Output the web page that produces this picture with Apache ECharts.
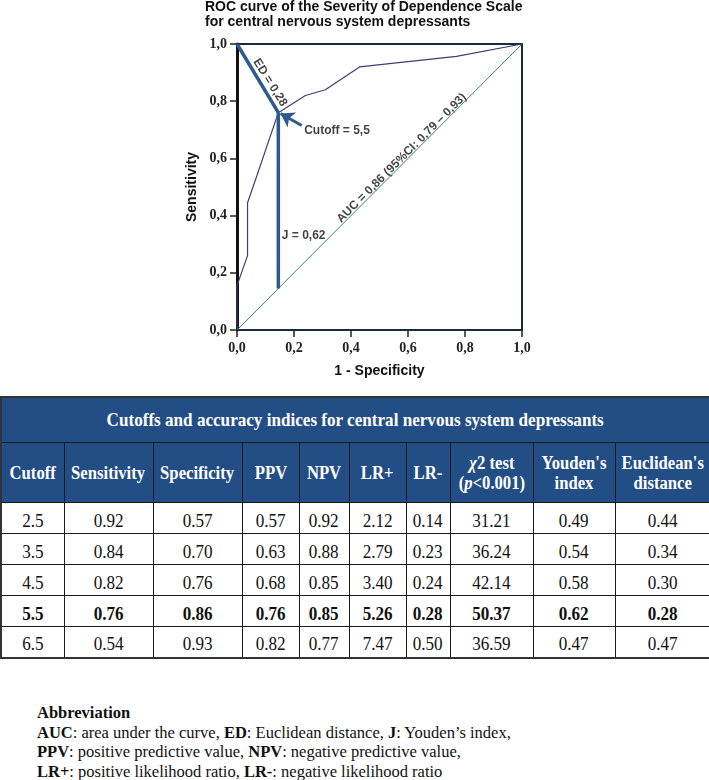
<!DOCTYPE html>
<html>
<head>
<meta charset="utf-8">
<script src="https://cdn.jsdelivr.net/npm/echarts@6/dist/echarts.min.js"></script>
<style>
  body { margin: 0; background: #fff; }
  #page { position: relative; width: 709px; height: 780px; overflow: hidden; }
  #roc { position: absolute; left: 0; top: 0; width: 709px; height: 390px; }
  #tbl {
    position: absolute; left: 0; top: 396px; width: 709px;
    border-collapse: collapse; table-layout: fixed;
    font-family: "Liberation Serif", "Times New Roman", serif; color: #111;
    border: 2px solid #333;
  }
  #tbl th, #tbl td { border: 1.5px solid #1a1a1a; padding: 0; text-align: center; }
  #tbl th { background: #234e85; color: #fff; font-weight: bold; }
  #tbl tr.ttl th { height: 44px; font-size: 19px; }
  #tbl tr.hdr th { height: 59px; font-size: 18.5px; line-height: 20px; }
  #tbl td { height: 31px; font-size: 19px; padding-top: 5px; box-sizing: border-box; }
  #tbl tr.best td { font-weight: bold; }
  .sx { display: inline-block; transform: scaleX(0.9); white-space: nowrap; }
  #abbr {
    position: absolute; left: 37px; top: 703px;
    font-family: "Liberation Serif", "Times New Roman", serif;
    font-size: 16.5px; line-height: 19.5px; color: #111;
  }
</style>
</head>
<body>
<div id="page">
  <div id="roc"></div>
  <table id="tbl"></table>
  <div id="abbr">
    <b>Abbreviation</b><br>
    <b>AUC</b>: area under the curve, <b>ED</b>: Euclidean distance, <b>J</b>: Youden’s index,<br>
    <b>PPV</b>: positive predictive value, <b>NPV</b>: negative predictive value,<br>
    <b>LR+</b>: positive likelihood ratio, <b>LR-</b>: negative likelihood ratio
  </div>
</div>
<script>
// ROC curve
const rocFpr = [0, 0, 0.037, 0.037, 0.07, 0.145, 0.24, 0.31, 0.43, 0.77, 1];
const rocTpr = [0, 0.155, 0.26, 0.445, 0.54, 0.76, 0.82, 0.84, 0.92, 0.957, 1];

// chosen cutoff point on the curve
const cutoffPoint = [0.145, 0.76];
const auc = 0.86;
const aucCi = [0.79, 0.93];

// table values
const columns = ['Cutoff', 'Sensitivity', 'Specificity', 'PPV', 'NPV', 'LR+', 'LR-',
  '<i>χ</i>2 test<br>(<i>p</i>&lt;0.001)', 'Youden\'s<br>index', 'Euclidean\'s<br>distance'];
const colWidths = [63, 89, 89, 57, 50, 57, 44, 83, 82, 95];
const cutoffs = [2.5, 3.5, 4.5, 5.5, 6.5];
const sensitivity = [0.92, 0.84, 0.82, 0.76, 0.54];
const specificity = [0.57, 0.70, 0.76, 0.86, 0.93];
const ppv = [0.57, 0.63, 0.68, 0.76, 0.82];
const npv = [0.92, 0.88, 0.85, 0.85, 0.77];
const lrPos = [2.12, 2.79, 3.40, 5.26, 7.47];
const lrNeg = [0.14, 0.23, 0.24, 0.28, 0.50];
const chi2 = [31.21, 36.24, 42.14, 50.37, 36.59];
const youden = [0.49, 0.54, 0.58, 0.62, 0.47];
const euclid = [0.44, 0.34, 0.30, 0.28, 0.47];
const bestRow = 3;

const comma = (v, d) => v.toFixed(d).replace('.', ',');

// build the table
const tbl = document.getElementById('tbl');
let html = '<colgroup>' + colWidths.map(w => `<col style="width:${w}px">`).join('') + '</colgroup>';
html += `<tr class="ttl"><th colspan="${columns.length}"><span class="sx">Cutoffs and accuracy indices for central nervous system depressants</span></th></tr>`;
html += '<tr class="hdr">' + columns.map(c => `<th><span class="sx">${c}</span></th>`).join('') + '</tr>';
cutoffs.forEach((c, i) => {
  const cells = [c.toFixed(1), sensitivity[i].toFixed(2), specificity[i].toFixed(2), ppv[i].toFixed(2),
    npv[i].toFixed(2), lrPos[i].toFixed(2), lrNeg[i].toFixed(2), chi2[i].toFixed(2),
    youden[i].toFixed(2), euclid[i].toFixed(2)];
  html += `<tr class="${i === bestRow ? 'best' : ''}">` + cells.map(v => `<td><span class="sx">${v}</span></td>`).join('') + '</tr>';
});
tbl.innerHTML = html;

// chart
const chart = echarts.init(document.getElementById('roc'));

const sans = 'Liberation Sans';
const blue = '#2e5a8e';
const labelStyle = { fontFamily: sans, fontWeight: 'bold', fontSize: 12, color: '#111' };

const cx = cutoffPoint[0];
const cy = cutoffPoint[1];

const option = {
  animation: false,
  title: {
    text: 'ROC curve of the Severity of Dependence Scale\nfor central nervous system depressants',
    left: 205,
    top: 0,
    padding: 0,
    textStyle: { fontFamily: sans, fontWeight: 'bold', fontSize: 14, lineHeight: 15, color: '#111' }
  },
  grid: {
    left: 237, top: 44, width: 285, height: 286,
    show: true, borderColor: '#1c2a40', borderWidth: 2
  },
  xAxis: {
    type: 'value', min: 0, max: 1, interval: 0.2,
    name: '1 - Specificity', nameLocation: 'middle', nameGap: 34,
    nameTextStyle: { fontFamily: sans, fontWeight: 'bold', fontSize: 14, color: '#111' },
    axisLine: { show: true, onZero: false, lineStyle: { color: '#1c2a40', width: 2 } },
    axisTick: { show: true, length: 7, lineStyle: { color: '#222', width: 1.5 } },
    axisLabel: {
      margin: 11, formatter: v => comma(v, 1),
      fontFamily: 'Liberation Serif', fontWeight: 'bold', fontSize: 14, color: '#222'
    },
    splitLine: { show: false }
  },
  yAxis: {
    type: 'value', min: 0, max: 1, interval: 0.2,
    name: 'Sensitivity', nameLocation: 'middle', nameGap: 38,
    nameTextStyle: { fontFamily: sans, fontWeight: 'bold', fontSize: 14, color: '#111' },
    axisLine: { show: true, onZero: false, lineStyle: { color: '#111', width: 3 } },
    axisTick: { show: true, length: 7, lineStyle: { color: '#222', width: 1.5 } },
    axisLabel: {
      margin: 10, formatter: v => comma(v, 1),
      fontFamily: 'Liberation Serif', fontWeight: 'bold', fontSize: 14, color: '#222'
    },
    splitLine: { show: false }
  },
  series: [
    {
      name: 'reference', type: 'line', symbol: 'none', silent: true,
      data: [[0, 0], [1, 1]],
      lineStyle: { color: '#2f8f48', width: 1 }
    },
    {
      name: 'ROC', type: 'line', symbol: 'none', silent: true,
      data: rocFpr.map((x, i) => [x, rocTpr[i]]),
      lineStyle: { color: '#3d3f70', width: 1.2 }
    },
    {
      name: 'ED', type: 'line', symbol: 'none', silent: true,
      data: [[0, 1], [cx, cy]],
      lineStyle: { color: blue, width: 3.5 }
    },
    {
      name: 'J', type: 'line', symbol: 'none', silent: true,
      data: [[cx, cx], [cx, cy]],
      lineStyle: { color: blue, width: 3.5 },
      markLine: {
        silent: true, symbol: ['none', 'arrow'], symbolSize: 13,
        label: { show: false },
        lineStyle: { color: blue, width: 3, type: 'solid' },
        data: [[{ coord: [0.227, 0.715] }, { coord: [cx + 0.008, cy - 0.003] }]]
      }
    },
    {
      name: 'labels', type: 'scatter', symbolSize: 0, silent: true,
      label: { show: true, position: 'inside', align: 'center', verticalAlign: 'middle', ...labelStyle },
      data: [
        { value: [0.116, 0.865], label: { formatter: 'ED = ' + comma(euclid[bestRow], 2), rotate: -58 } },
        { value: [0.351, 0.697], label: { formatter: 'Cutoff = ' + comma(cutoffs[bestRow], 1) } },
        { value: [0.234, 0.33], label: { formatter: 'J = ' + comma(youden[bestRow], 2) } },
        {
          value: [0.578, 0.601],
          label: { formatter: `AUC = ${comma(auc, 2)} (95%CI: ${comma(aucCi[0], 2)} – ${comma(aucCi[1], 2)})`, rotate: 45 }
        }
      ]
    }
  ]
};

chart.setOption(option);
</script>
</body>
</html>
